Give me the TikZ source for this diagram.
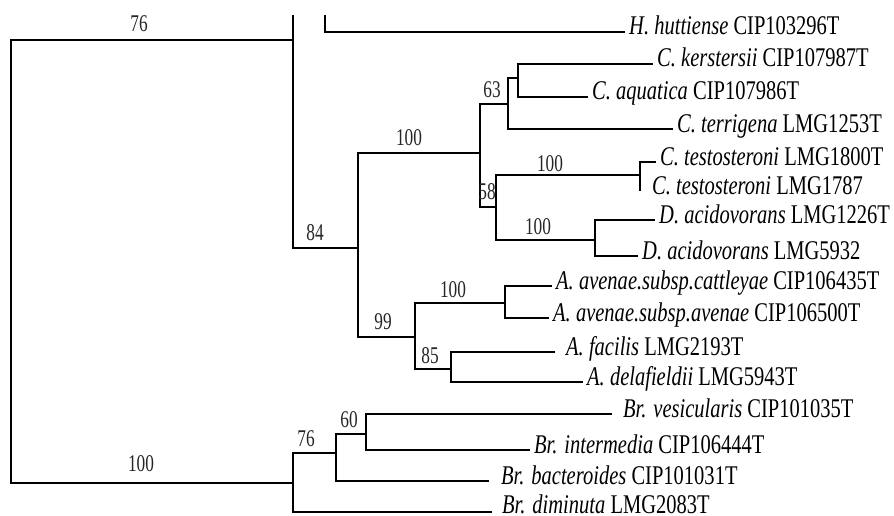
\documentclass[tikz,border=0pt]{standalone}
\usepackage{fontspec}
\setmainfont{Liberation Serif}
\newfontfamily\taxfont[FakeStretch=0.76]{Liberation Serif}
\newfontfamily\bsfont[FakeStretch=0.72]{Liberation Serif}
\begin{document}
\begin{tikzpicture}[x=1pt,y=-1pt,
  br/.style={line width=1.4pt, black},
  taxon/.style={anchor=base west, inner sep=0pt, xshift=4pt, yshift=-3pt,
    font=\taxfont\fontsize{27}{27}\selectfont},
  boot/.style={inner sep=0pt, text=black!85,
    font=\bsfont\fontsize{24}{24}\selectfont}]
\useasboundingbox (0,0) rectangle (894,516);
\fill[white] (0,0) rectangle (894,516);
\clip (0,16) rectangle (894,516);

% internal nodes and tips
\coordinate (root) at (11,261);
\coordinate (nA) at (293,40);
\coordinate (nAtop) at (293,0);
\coordinate (hhtop) at (325,0);
\coordinate (tHH) at (625,32);
\coordinate (n84) at (358,248);
\coordinate (n100c) at (480,153);
\coordinate (n63) at (508,104);
\coordinate (nK) at (518,78);
\coordinate (tKer) at (653,64);
\coordinate (tAq) at (588,97);
\coordinate (tTer) at (673,129);
\coordinate (n58) at (496,207);
\coordinate (nT) at (640,175);
\coordinate (tT1) at (656,162);
\coordinate (tT2) at (640,191);
\coordinate (nD) at (595,240);
\coordinate (tD1) at (655,220);
\coordinate (tD2) at (638,256);
\coordinate (n99) at (415,337);
\coordinate (nAv) at (505,303);
\coordinate (tCat) at (552,286);
\coordinate (tAve) at (549,318);
\coordinate (n85) at (451,369);
\coordinate (tFac) at (555,352);
\coordinate (tDel) at (583,382);
\coordinate (nB) at (293,483);
\coordinate (n76) at (336,453);
\coordinate (tDim) at (492,512);
\coordinate (n60) at (366,434);
\coordinate (tBac) at (489,481);
\coordinate (tVes) at (612,414);
\coordinate (tInt) at (530,450);

% branches
\draw[br] (root) |- (nA);
\draw[br] (root) |- (nB);
\draw[br] (nAtop) -- (nA);
\draw[br] (nA) |- (n84);
\draw[br] (hhtop) |- (tHH);
\draw[br] (n84) |- (n100c);
\draw[br] (n84) |- (n99);
\draw[br] (n100c) |- (n63);
\draw[br] (n100c) |- (n58);
\draw[br] (n63) |- (nK);
\draw[br] (n63) |- (tTer);
\draw[br] (nK) |- (tKer);
\draw[br] (nK) |- (tAq);
\draw[br] (n58) |- (nT);
\draw[br] (n58) |- (nD);
\draw[br] (nT) |- (tT1);
\draw[br] (nT) -- (tT2);
\draw[br] (nD) |- (tD1);
\draw[br] (nD) |- (tD2);
\draw[br] (n99) |- (nAv);
\draw[br] (n99) |- (n85);
\draw[br] (nAv) |- (tCat);
\draw[br] (nAv) |- (tAve);
\draw[br] (n85) |- (tFac);
\draw[br] (n85) |- (tDel);
\draw[br] (nB) |- (n76);
\draw[br] (nB) |- (tDim);
\draw[br] (n76) |- (n60);
\draw[br] (n76) |- (tBac);
\draw[br] (n60) |- (tVes);
\draw[br] (n60) |- (tInt);

% taxon labels
\node[taxon] (lHH) at (tHH) {\textit{H. huttiense} CIP103296T};
\node[taxon] (lKer) at (tKer) {\textit{C. kerstersii} CIP107987T};
\node[taxon] (lAq) at (tAq) {\textit{C. aquatica} CIP107986T};
\node[taxon] (lTer) at (tTer) {\textit{C. terrigena} LMG1253T};
\node[taxon] (lT1) at (tT1) {\textit{C. testosteroni} LMG1800T};
\node[taxon, xshift=8pt] (lT2) at (tT2) {\textit{C. testosteroni} LMG1787};
\node[taxon] (lD1) at (tD1) {\textit{D. acidovorans} LMG1226T};
\node[taxon] (lD2) at (tD2) {\textit{D. acidovorans} LMG5932};
\node[taxon] (lCat) at (tCat) {\textit{A. avenae.subsp.cattleyae} CIP106435T};
\node[taxon] (lAve) at (tAve) {\textit{A. avenae.subsp.avenae} CIP106500T};
\node[taxon, xshift=7pt] (lFac) at (tFac) {\textit{A. facilis} LMG2193T};
\node[taxon] (lDel) at (tDel) {\textit{A. delafieldii} LMG5943T};
\node[taxon, xshift=7pt] (lVes) at (tVes) {\textit{Br. vesicularis} CIP101035T};
\node[taxon] (lInt) at (tInt) {\textit{Br. intermedia} CIP106444T};
\node[taxon, xshift=8pt] (lBac) at (tBac) {\textit{Br. bacteroides} CIP101031T};
\node[taxon, xshift=6pt, yshift=2pt] (lDim) at (tDim) {\textit{Br. diminuta} LMG2083T};

% bootstrap values
\node[boot] (b76a) at (139,24) {76};
\node[boot] (b84) at (315,233) {84};
\node[boot] (b100c) at (409,138) {100};
\node[boot] (b63) at (492,90) {63};
\node[boot] (b58) at (487,192) {58};
\node[boot] (b100t) at (550,164) {100};
\node[boot] (b100d) at (538,227) {100};
\node[boot] (b100a) at (453,290) {100};
\node[boot] (b99) at (383,322) {99};
\node[boot] (b85) at (430,356) {85};
\node[boot] (b76b) at (306,439) {76};
\node[boot] (b60) at (349,420) {60};
\node[boot] (b100r) at (141,464) {100};
\end{tikzpicture}
\end{document}
